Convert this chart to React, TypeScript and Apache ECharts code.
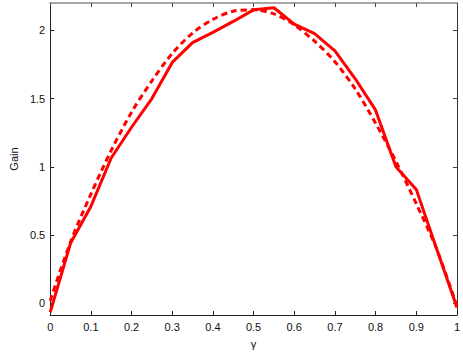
import React, { useEffect, useRef } from "react";
import * as echarts from "echarts";

const gammaValues = [0, 0.05, 0.1, 0.15, 0.2, 0.25, 0.3, 0.35, 0.4, 0.45, 0.5, 0.55, 0.6, 0.65, 0.7, 0.75, 0.8, 0.85, 0.9, 0.95, 1.0];
const measuredGain = [-0.065, 0.44, 0.71, 1.065, 1.29, 1.5, 1.765, 1.91, 1.985, 2.065, 2.15, 2.165, 2.045, 1.975, 1.85, 1.645, 1.415, 1.0, 0.835, 0.4, -0.03];
const modelGain = [0.02, 0.45, 0.8, 1.12, 1.4, 1.63, 1.83, 1.98, 2.08, 2.14, 2.15, 2.12, 2.04, 1.92, 1.77, 1.57, 1.32, 1.04, 0.73, 0.4, -0.02];
const yTicks = [0, 0.5, 1, 1.5, 2];

const FONT = "Liberation Sans";

export default function App() {
  const ref = useRef<HTMLDivElement>(null);
  useEffect(() => {
    document.body.style.margin = "0";
    const chart = echarts.init(ref.current!, null, { renderer: "svg" });
    const axisLine = { show: true, onZero: false, lineStyle: { color: "#222", width: 1 } };
    chart.setOption({
      animation: false,
      backgroundColor: "#fff",
      grid: { left: 36, right: 6, top: 3, bottom: 33, containLabel: false },
      xAxis: [
        {
          type: "value",
          min: 0,
          max: 1,
          interval: 0.1,
          name: "γ",
          nameLocation: "middle",
          nameGap: 23,
          nameTextStyle: { fontFamily: FONT, fontSize: 11, color: "#111" },
          axisLine,
          axisTick: { show: true, inside: true, length: 4, lineStyle: { color: "#222" } },
          axisLabel: { fontFamily: FONT, fontSize: 11, color: "#111", margin: 6 },
          splitLine: { show: false },
        },
        {
          type: "value",
          position: "top",
          min: 0,
          max: 1,
          interval: 0.1,
          axisLine: { show: true, onZero: false, lineStyle: { color: "#888", width: 1.5 } },
          axisTick: { show: true, inside: true, length: 4, lineStyle: { color: "#444" } },
          axisLabel: { show: false },
          splitLine: { show: false },
        },
      ],
      yAxis: [
        {
          type: "value",
          min: -0.085,
          max: 2.2,
          name: "Gain",
          nameLocation: "middle",
          nameGap: 25,
          nameRotate: 90,
          nameTextStyle: { fontFamily: FONT, fontSize: 11, color: "#111" },
          axisLine,
          axisTick: { show: true, inside: true, length: 4, customValues: yTicks, lineStyle: { color: "#222" } },
          axisLabel: { fontFamily: FONT, fontSize: 11, color: "#111", margin: 5, customValues: yTicks },
          splitLine: { show: false },
        },
        {
          type: "value",
          position: "right",
          min: -0.085,
          max: 2.2,
          axisLine: { show: true, onZero: false, lineStyle: { color: "#333", width: 1 } },
          axisTick: { show: true, inside: true, length: 4, customValues: yTicks, lineStyle: { color: "#444" } },
          axisLabel: { show: false, customValues: yTicks },
          splitLine: { show: false },
        },
      ],
      series: [
        {
          type: "line",
          data: gammaValues.map((g, i) => [g, modelGain[i]]),
          smooth: 0.3,
          showSymbol: false,
          lineStyle: { color: "#ff0000", width: 3, type: [6, 4] },
          z: 2,
        },
        {
          type: "line",
          data: gammaValues.map((g, i) => [g, measuredGain[i]]),
          showSymbol: false,
          lineStyle: { color: "#ff0000", width: 3 },
          z: 3,
        },
      ],
    });
    return () => chart.dispose();
  }, []);
  return <div ref={ref} style={{ position: "fixed", left: 0, top: 0, width: 463, height: 354 }} />;
}
